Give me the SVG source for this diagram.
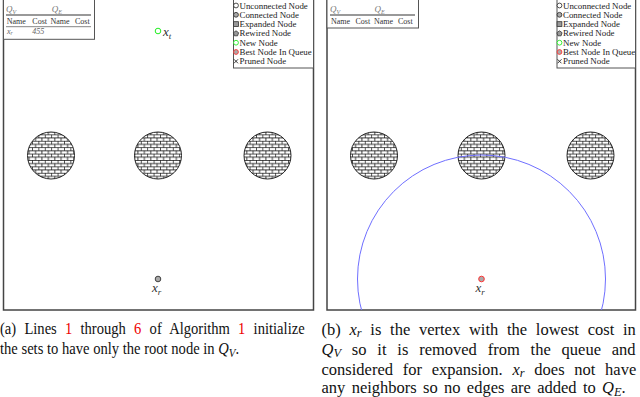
<svg xmlns="http://www.w3.org/2000/svg" width="640" height="397" viewBox="0 0 640 397">
<style>
.frame{fill:none;stroke:#444;stroke-width:1.5}
.tbox{fill:#fff;stroke:#555;stroke-width:1}
.thick{stroke:#999;stroke-width:2}
.thin{stroke:#666;stroke-width:0.8}
.th{font-family:"Liberation Serif",serif;font-size:8px;fill:#333}
.q{font-family:"Liberation Serif",serif;font-style:italic;font-size:9px;fill:#777}
.cell{font-family:"Liberation Serif",serif;font-style:italic;font-size:8px;fill:#666}
.leg{font-family:"Liberation Serif",serif;font-size:8.9px;fill:#222}
.obs{fill:url(#bricks);stroke:#111;stroke-width:0.9}
.math{font-family:"Liberation Serif",serif;font-style:italic;font-size:13px;fill:#333}
.capA{font-family:"Liberation Serif",serif;font-size:16px;fill:#111}
.capB{font-family:"Liberation Serif",serif;font-size:16.5px;fill:#111}
.red{fill:#e00}
.it{font-style:italic}
.conn{fill:#aaa;stroke:#333;stroke-width:0.9}
</style>
<defs>
<pattern id="bricks" patternUnits="userSpaceOnUse" width="6.4" height="6.4">
<rect width="6.4" height="6.4" fill="#fff"/>
<path d="M0 0.35H6.4M0 3.55H6.4M0.35 0.35V3.55M3.55 3.55V6.75M3.55 -0.1V0.35" stroke="#000" stroke-width="0.75" fill="none"/>
</pattern>
<clipPath id="clipB"><rect x="327" y="0" width="308.5" height="310"/></clipPath>
</defs>

<!-- Panel A -->
<g id="panelA">
<rect class="frame" x="3.5" y="-1" width="310" height="311"/>
</g>
<g id="tableA">
<rect class="tbox" x="3.5" y="-1" width="91" height="40.3"/>
<text class="q" x="6" y="12">Q<tspan font-size="6" dy="1.5">V</tspan></text>
<text class="q" x="51.7" y="12">Q<tspan font-size="6" dy="1.5">E</tspan></text>
<line class="thick" x1="6" y1="15" x2="91" y2="15"/>
<text class="th" x="6.7" y="24">Name</text>
<text class="th" x="32.3" y="24">Cost</text>
<text class="th" x="50.5" y="24">Name</text>
<text class="th" x="75" y="24">Cost</text>
<line class="thin" x1="6" y1="26.7" x2="91" y2="26.7"/>
<text class="cell" x="7" y="34">x<tspan font-size="5.5" dy="1.2">r</tspan></text>
<text class="cell" x="32.3" y="34">455</text>
</g>
<g id="legendA">
<rect class="tbox" x="233.5" y="-1" width="80" height="69"/>
<circle cx="236" cy="5.5" r="2.4" fill="#fff" stroke="#222" stroke-width="0.8"/>
<text class="leg" x="239.5" y="8.5">Unconnected Node</text>
<circle cx="236" cy="14.8" r="2.4" class="conn"/>
<text class="leg" x="239.5" y="17.8">Connected Node</text>
<rect x="233.6" y="21.7" width="4.8" height="4.8" fill="#999" stroke="#333" stroke-width="0.8"/>
<text class="leg" x="239.5" y="27.1">Expanded Node</text>
<polygon points="236,30.8 238.6,32.7 237.6,35.8 234.4,35.8 233.4,32.7" fill="#999" stroke="#333" stroke-width="0.8"/>
<text class="leg" x="239.5" y="36.4">Rewired Node</text>
<circle cx="236" cy="42.7" r="2.4" fill="#fff" stroke="#2e2" stroke-width="0.9"/>
<text class="leg" x="239.5" y="45.7">New Node</text>
<circle cx="236" cy="52" r="2.4" fill="#aaa" stroke="#f33" stroke-width="0.9"/>
<text class="leg" x="239.5" y="55">Best Node In Queue</text>
<path d="M234 59.3L238 63.3M238 59.3L234 63.3" stroke="#222" stroke-width="0.9"/>
<text class="leg" x="239.5" y="64.3">Pruned Node</text>
</g>
<g id="obsA1"><circle class="obs" cx="51" cy="155.5" r="23.5"/></g>
<g id="obsA2"><circle class="obs" cx="158" cy="155.5" r="23.5"/></g>
<g id="obsA3"><circle class="obs" cx="267.5" cy="155.5" r="23.5"/></g>
<g id="xtA">
<circle cx="158" cy="31" r="2.8" fill="#fff" stroke="#2e2" stroke-width="1"/>
<text class="math" x="163" y="36">x<tspan font-size="9" dy="2.5">t</tspan></text>
</g>
<g id="xrA">
<circle cx="158" cy="279" r="2.8" class="conn"/>
<text class="math" x="152" y="292">x<tspan font-size="9" dy="2.5">r</tspan></text>
</g>

<!-- Panel B -->
<g id="panelB">
<rect class="frame" x="327" y="-1" width="308.5" height="311"/>
</g>
<g id="obsB1"><circle class="obs" cx="374" cy="155.5" r="23.5"/></g>
<g id="obsB2"><circle class="obs" cx="481.5" cy="155.5" r="23.5"/></g>
<g id="obsB3"><circle class="obs" cx="590.5" cy="155.5" r="23.5"/></g>
<g id="connectors">
<circle cx="481.5" cy="279" r="124" fill="none" stroke="#6f6fff" stroke-width="1" clip-path="url(#clipB)"/>
</g>
<g id="tableB">
<rect class="tbox" x="327" y="-1" width="91.5" height="29"/>
<text class="q" x="330" y="12">Q<tspan font-size="6" dy="1.5">V</tspan></text>
<text class="q" x="374.5" y="12">Q<tspan font-size="6" dy="1.5">E</tspan></text>
<line class="thick" x1="330" y1="15" x2="415" y2="15"/>
<text class="th" x="331" y="24">Name</text>
<text class="th" x="355.5" y="24">Cost</text>
<text class="th" x="374" y="24">Name</text>
<text class="th" x="398" y="24">Cost</text>
</g>
<g id="legendB">
<rect class="tbox" x="557" y="-1" width="78.5" height="69"/>
<circle cx="559.5" cy="5.5" r="2.4" fill="#fff" stroke="#222" stroke-width="0.8"/>
<text class="leg" x="563" y="8.5">Unconnected Node</text>
<circle cx="559.5" cy="14.8" r="2.4" class="conn"/>
<text class="leg" x="563" y="17.8">Connected Node</text>
<rect x="557.1" y="21.7" width="4.8" height="4.8" fill="#999" stroke="#333" stroke-width="0.8"/>
<text class="leg" x="563" y="27.1">Expanded Node</text>
<polygon points="559.5,30.8 562.1,32.7 561.1,35.8 557.9,35.8 556.9,32.7" fill="#999" stroke="#333" stroke-width="0.8"/>
<text class="leg" x="563" y="36.4">Rewired Node</text>
<circle cx="559.5" cy="42.7" r="2.4" fill="#fff" stroke="#2e2" stroke-width="0.9"/>
<text class="leg" x="563" y="45.7">New Node</text>
<circle cx="559.5" cy="52" r="2.4" fill="#aaa" stroke="#f33" stroke-width="0.9"/>
<text class="leg" x="563" y="55">Best Node In Queue</text>
<path d="M557.5 59.3L561.5 63.3M561.5 59.3L557.5 63.3" stroke="#222" stroke-width="0.9"/>
<text class="leg" x="563" y="64.3">Pruned Node</text>
</g>
<g id="xrB">
<circle cx="481.5" cy="279" r="2.8" fill="#aaa" stroke="#f33" stroke-width="1"/>
<text class="math" x="475.5" y="292">x<tspan font-size="9" dy="2.5">r</tspan></text>
</g>

<!-- Captions -->
<g id="captionA" transform="scale(0.9125,1)">
<text class="capA" x="0" y="334.5" word-spacing="5">(a) Lines <tspan class="red">1</tspan> through <tspan class="red">6</tspan> of Algorithm <tspan class="red">1</tspan> initialize</text>
<text class="capA" x="0" y="354.5">the sets to have only the root node in <tspan class="it">Q</tspan><tspan class="it" font-size="12" dy="2.5">V</tspan><tspan dy="-2.5">.</tspan></text>
</g>
<g id="captionB">
<text class="capB" x="321.5" y="334.5" word-spacing="4.6">(b) <tspan class="it">x</tspan><tspan class="it" font-size="12.4" dy="2.5">r</tspan><tspan dy="-2.5"> is the vertex with the lowest cost in</tspan></text>
<text class="capB" x="321.5" y="354.5" word-spacing="6.7"><tspan class="it">Q</tspan><tspan class="it" font-size="12.4" dy="2.5">V</tspan><tspan dy="-2.5"> so it is removed from the queue and</tspan></text>
<text class="capB" x="321.5" y="374.5" word-spacing="5.6">considered for expansion. <tspan class="it">x</tspan><tspan class="it" font-size="12.4" dy="2.5">r</tspan><tspan dy="-2.5"> does not have</tspan></text>
<text class="capB" x="321.5" y="393" word-spacing="2.2">any neighbors so no edges are added to <tspan class="it">Q</tspan><tspan class="it" font-size="12.4" dy="2.5">E</tspan><tspan dy="-2.5">.</tspan></text>
</g>
</svg>
